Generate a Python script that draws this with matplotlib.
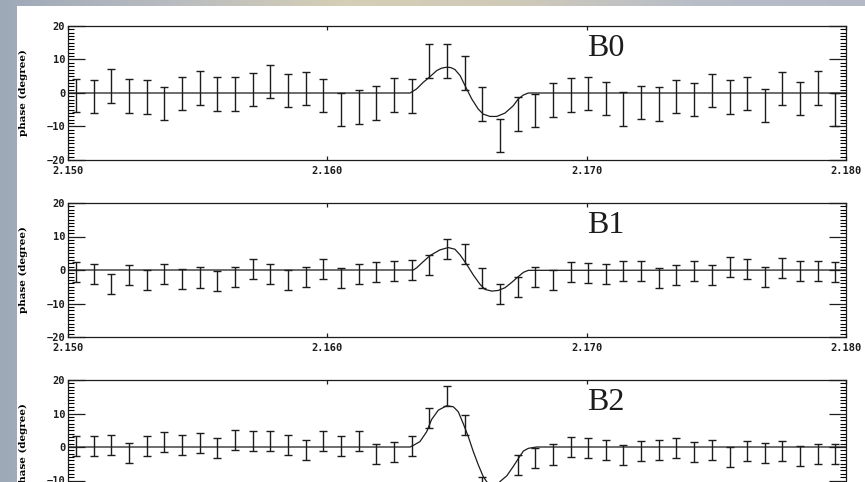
import matplotlib.pyplot as plt
import matplotlib.patches as mpatches
from matplotlib.colors import LinearSegmentedColormap
import numpy as np

# wavelength grid of the measured points (micron)
wave = [2.15031, 2.15099, 2.15167, 2.15235, 2.15303, 2.15372, 2.15440, 2.15508,
        2.15576, 2.15644, 2.15712, 2.15780, 2.15848, 2.15916, 2.15984, 2.16053,
        2.16121, 2.16189, 2.16257, 2.16325, 2.16393, 2.16461, 2.16529, 2.16597,
        2.16665, 2.16734, 2.16802, 2.16870, 2.16938, 2.17006, 2.17074, 2.17142,
        2.17210, 2.17278, 2.17346, 2.17415, 2.17483, 2.17551, 2.17619, 2.17687,
        2.17755, 2.17823, 2.17891, 2.17959]

# measured phases (degree) and errors, one set per baseline
phase_b0 = [-0.8, -1.0, 2.1, -0.9, -1.15, -3.1, -0.1, 1.5, -0.25, -0.25,
            1.0, 3.4, 0.7, 1.3, -0.8, -5.0, -4.15, -3.0, -0.6, -0.9,
            9.5, 9.5, 5.95, -3.3, -12.75, -6.25, -5.25, -2.05, -0.6, -0.15,
            -1.7, -4.8, -2.9, -3.3, -1.0, -2.0, 0.8, -1.15, -0.1, -3.7,
            1.3, -1.7, 1.55, -5.0]
err_b0 = [5.0] * 44

phase_b1 = [-0.65, -1.25, -4.25, -1.55, -2.9, -1.25, -2.75, -2.25, -3.2, -2.15,
            0.4, -1.25, -3.0, -2.1, 0.2, -2.35, -1.3, -0.6, -0.3, 0.1,
            1.6, 6.3, 4.7, -2.3, -7.05, -5.0, -2.0, -2.9, -0.6, -0.9,
            -1.2, -0.25, -0.35, -2.5, -1.5, -0.4, -1.5, 1.0, 0.2, -2.0,
            0.7, -0.4, -0.4, -0.6]
err_b1 = [3.0] * 44

phase_b2 = [0.3, 0.2, 0.65, -1.75, 0.2, 1.55, 0.5, 1.2, -0.3, 2.1,
            1.8, 1.8, 0.65, -0.8, 1.9, 0.2, 1.7, -2.0, -1.5, 0.4,
            8.7, 15.2, 6.7, -12.0, -14.0, -5.5, -3.3, -2.25, 0.0, -0.2,
            -1.0, -2.35, -1.1, -1.0, -0.35, -1.4, -1.0, -2.95, -1.3, -1.8,
            -1.25, -2.6, -2.0, -2.2]
err_b2 = [3.0] * 44

# model curves
model_x_b0 = [2.150, 2.16319, 2.16344, 2.16370, 2.16389, 2.16422, 2.16440, 2.16460,
              2.16476, 2.16492, 2.16512, 2.16531, 2.16557, 2.16582, 2.16601, 2.16627,
              2.16653, 2.16685, 2.16717, 2.16736, 2.16756, 2.16775, 2.180]
model_y_b0 = [0, 0, 1.2, 3.2, 4.4, 6.7, 7.4, 7.7,
              7.6, 7.0, 5.2, 2.2, -1.8, -4.8, -6.3, -7.0,
              -7.0, -6.0, -3.8, -1.8, -0.6, 0, 0]

model_x_b1 = [2.150, 2.16332, 2.16345, 2.16370, 2.16396, 2.16434, 2.16466, 2.16492,
              2.16512, 2.16537, 2.16563, 2.16589, 2.16608, 2.16634, 2.16659, 2.16685,
              2.16711, 2.16736, 2.16756, 2.16775, 2.180]
model_y_b1 = [0, 0, 0.7, 2.5, 4.3, 6.0, 6.7, 6.2,
              4.5, 1.7, -1.5, -4.3, -5.8, -6.3, -6.1, -5.3,
              -3.7, -2.0, -0.7, -0.1, 0]

model_x_b2 = [2.150, 2.16319, 2.16332, 2.16357, 2.16383, 2.16402, 2.16428, 2.16460,
              2.16486, 2.16505, 2.16524, 2.16544, 2.16563, 2.16582, 2.16601, 2.16614,
              2.16627, 2.16640, 2.16653, 2.16666, 2.16692, 2.16717, 2.16743, 2.16756,
              2.16775, 2.16807, 2.180]
model_y_b2 = [0, 0, 0.5, 1.6, 4.55, 8.2, 11.0, 12.3,
              12.0, 10.5, 7.0, 3.0, -1.4, -5.3, -8.8, -10.3,
              -11.7, -12.4, -11.9, -10.3, -8.6, -5.8, -2.7, -1.2,
              -0.4, 0, 0]

labels = ['B0', 'B1', 'B2']
xticks = [2.150, 2.160, 2.170, 2.180]
xticklabels = ['2.150', '2.160', '2.170', '2.180']

fig = plt.figure(figsize=(8.65, 4.82), dpi=100)

# blurred photo-like backdrop behind the white page
bg = fig.add_axes([0, 0, 1, 1], zorder=-20)
bg_cmap = LinearSegmentedColormap.from_list(
    'bg', ['#9ea9b8', '#b9bcc0', '#d6cfb6', '#cfc9b8', '#b8bec8', '#b3bac6'])
bg.imshow(np.linspace(0, 1, 256)[None, :], cmap=bg_cmap, aspect='auto',
          extent=[0, 1, 0, 1])
bg.axis('off')

# white page behind the plots
page = mpatches.Rectangle((17 / 865, 0), 1, 1 - 6 / 482, transform=fig.transFigure,
                          facecolor='white', edgecolor='none', zorder=-10)
fig.patches.append(page)

ink = '#1c1c1c'
tickfont = dict(family='DejaVu Sans Mono', weight='bold', size=7.5)

panels = [
    (phase_b0, err_b0, model_x_b0, model_y_b0, 160),
    (phase_b1, err_b1, model_x_b1, model_y_b1, 337),
    (phase_b2, err_b2, model_x_b2, model_y_b2, 514),
]

for k, (ph, er, mx, my, bottom_px) in enumerate(panels):
    ax = fig.add_axes([68 / 865, 1 - bottom_px / 482, 778 / 865, 134 / 482])
    ax.set_facecolor('none')
    ax.plot(mx, my, color=ink, lw=0.9)
    ax.errorbar(wave, ph, yerr=er, fmt='none', ecolor=ink, elinewidth=1.0,
                capsize=3, capthick=1.0)
    ax.set_xlim(2.150, 2.180)
    ax.set_ylim(-20, 20)
    ax.set_xticks(xticks)
    ax.set_xticklabels(xticklabels, fontdict=tickfont)
    ax.set_yticks([-20, -10, 0, 10, 20])
    ax.set_yticklabels(['\u221220', '\u221210', '0', '10', '20'], fontdict=tickfont)
    ax.set_yticks(np.arange(-20, 21, 1), minor=True)
    ax.tick_params(axis='y', which='major', direction='in', length=12, width=0.9,
                   left=True, right=True, pad=2, colors=ink)
    ax.tick_params(axis='y', which='minor', direction='in', length=4, width=0.8,
                   left=True, right=True)
    ax.tick_params(axis='x', which='major', direction='in', length=3, width=0.9,
                   top=True, bottom=True, pad=4, colors=ink)
    if k == 2:
        # bottom panel runs off the page, its x labels are not visible
        ax.tick_params(axis='x', labelbottom=False)
    for s in ax.spines.values():
        s.set_color(ink)
        s.set_linewidth(0.9)
    ax.set_ylabel('phase (degree)', fontdict=dict(family='DejaVu Serif',
                                                  weight='bold', size=7.5))
    ax.yaxis.set_label_coords(-0.052, 0.5)
    ax.text(0.667, 0.83, labels[k], transform=ax.transAxes, ha='left',
            va='center', fontsize=23, family='Liberation Serif', color=ink)

fig.savefig('out.png', dpi=100)
